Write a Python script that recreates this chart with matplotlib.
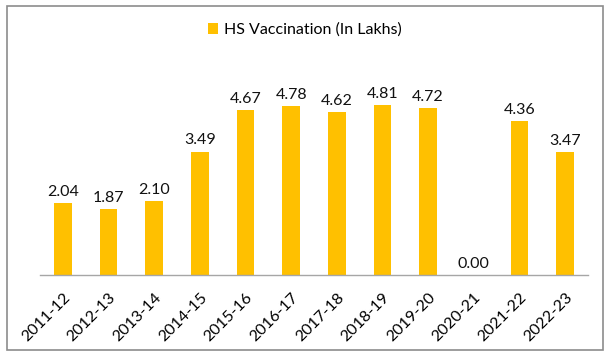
import matplotlib
matplotlib.use("Agg")
import matplotlib.pyplot as plt
from matplotlib.patches import Rectangle

categories = ["2011-12", "2012-13", "2013-14", "2014-15", "2015-16", "2016-17",
              "2017-18", "2018-19", "2019-20", "2020-21", "2021-22", "2022-23"]
values = [2.04, 1.87, 2.10, 3.49, 4.67, 4.78, 4.62, 4.81, 4.72, 0.00, 4.36, 3.47]
series_name = "HS Vaccination (In Lakhs)"

plt.rcParams['font.family'] = ['Lato', 'DejaVu Sans']

fig = plt.figure(figsize=(6.10, 3.56), dpi=100)
ax = fig.add_axes([40/610, 81/356, 548/610, 212/356])

x = list(range(len(categories)))
bars = ax.bar(x, values, width=0.39, color="#FFC000", label=series_name, zorder=2)
for xi, v in zip(x, values):
    ax.text(xi, v + 0.12, f"{v:.2f}", ha="center", va="bottom", fontsize=11.5, color="#111111")

ax.set_xlim(-0.5, len(categories) - 0.5)
ax.set_ylim(0, 6)
ax.set_yticks([])
ax.set_xticks(x)
ax.set_xticklabels(categories, rotation=45, ha="right", rotation_mode="anchor", fontsize=11.5)
ax.tick_params(axis="x", length=0, pad=11)
for s in ["top", "right", "left"]:
    ax.spines[s].set_visible(False)
ax.spines["bottom"].set_color("#A6A6A6")
ax.spines["bottom"].set_linewidth(1)

fig.legend(handles=[bars], labels=[series_name], loc="center", bbox_to_anchor=(0.5, 1 - 30/356),
           frameon=False, fontsize=11.5, handlelength=0.6, handleheight=0.6, handletextpad=0.4)

fig.patches.append(Rectangle((7/610, 6/356), 596/610, 344/356, transform=fig.transFigure,
                             fill=False, edgecolor="#8C8C8C", linewidth=1.2))

fig.savefig("out.png", dpi=100)
